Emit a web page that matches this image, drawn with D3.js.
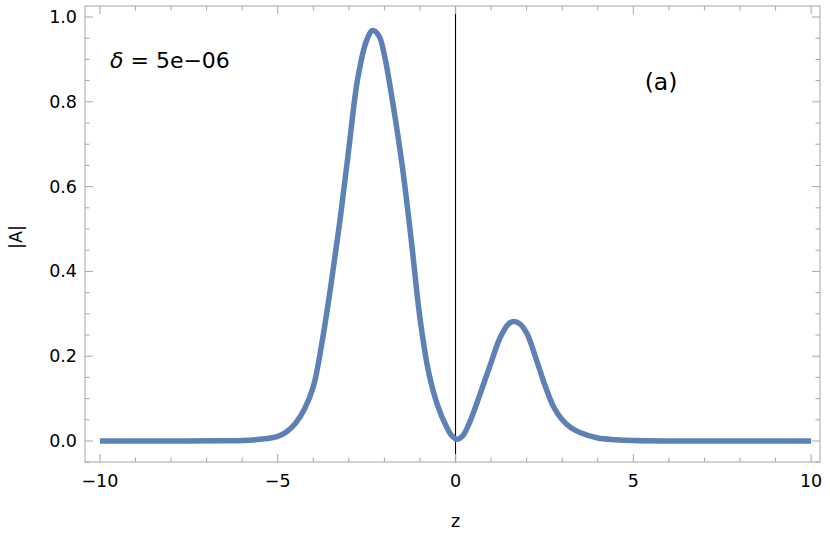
<!DOCTYPE html>
<html>
<head>
<meta charset="utf-8">
<script src="https://cdn.jsdelivr.net/npm/d3@7"></script>
<style>
  body { margin: 0; background: #fff; }
  svg { display: block; }
  text { font-family: "DejaVu Sans", "Liberation Sans", Arial, sans-serif; fill: #000; }
</style>
</head>
<body>
<svg id="chart" width="830" height="546"></svg>
<script>
// ---- data ----
const zValues = [-10, -8, -6.5, -6, -5.5, -5.0, -4.75, -4.5, -4.25, -4.0, -3.75, -3.5, -3.25, -3.0, -2.75,
  -2.5, -2.33, -2.15, -2.0, -1.75, -1.5, -1.25, -1.0, -0.75, -0.5, -0.25, -0.1, 0.05, 0.2, 0.35, 0.5, 0.75,
  1.0, 1.25, 1.5, 1.65, 1.8, 2.0, 2.25, 2.5, 2.75, 3.0, 3.25, 3.5, 4.0, 4.5, 5, 6, 8, 10];
const aValues = [0, 0, 0.0005, 0.001, 0.004, 0.011, 0.022, 0.042, 0.075, 0.128, 0.235, 0.37, 0.52, 0.69, 0.855,
  0.945, 0.968, 0.955, 0.91, 0.79, 0.65, 0.478, 0.29, 0.16, 0.083, 0.033, 0.012, 0.004, 0.012, 0.035, 0.066, 0.125,
  0.185, 0.243, 0.277, 0.282, 0.277, 0.255, 0.198, 0.135, 0.082, 0.05, 0.031, 0.02, 0.007, 0.003, 0.001, 0, 0, 0];
const xMajorTicks = [-10, -5, 0, 5, 10];
const xMinorTicks = d3.range(-10, 10.01, 1);
const yMajorTicks = [0.0, 0.2, 0.4, 0.6, 0.8, 1.0];
const yMinorTicks = d3.range(-0.05, 1.001, 0.05);
const xLabel = "z";
const yLabel = "|A|";
const panelLabel = "(a)";

// ---- layout ----
const L = 85, R = 820, T = 6, B = 462;
const x = d3.scaleLinear().domain([-10.42, 10.25]).range([L, R]);
const y = d3.scaleLinear().domain([-0.0495, 1.026]).range([B, T]);

const svg = d3.select("#chart");
const frameColor = "#a6a6a6";

// curve
const pts = zValues.map((z, i) => [z, aValues[i]]);
const line = d3.line().x(d => x(d[0])).y(d => y(d[1])).curve(d3.curveCatmullRom.alpha(0.5));

// vertical axis line at z = 0
svg.append("line")
  .attr("x1", x(0)).attr("x2", x(0)).attr("y1", T).attr("y2", B)
  .attr("stroke", "#000").attr("stroke-width", 1.1);

svg.append("path")
  .datum(pts)
  .attr("d", line)
  .attr("fill", "none")
  .attr("stroke", "#5E81B5")
  .attr("stroke-width", 5.5)
  .attr("stroke-linejoin", "round");

// frame
svg.append("rect")
  .attr("x", L).attr("y", T).attr("width", R - L).attr("height", B - T)
  .attr("fill", "none").attr("stroke", frameColor).attr("stroke-width", 1);

const fmt = d3.format(".1f");
const isMajorX = v => xMajorTicks.some(m => Math.abs(m - v) < 1e-6);
const isMajorY = v => yMajorTicks.some(m => Math.abs(m - v) < 1e-6);

// x ticks bottom & top (inward)
const gx = svg.append("g");
xMinorTicks.forEach(v => {
  const len = isMajorX(v) ? 8 : 4.5;
  gx.append("line").attr("x1", x(v)).attr("x2", x(v)).attr("y1", B).attr("y2", B - len)
    .attr("stroke", frameColor);
  gx.append("line").attr("x1", x(v)).attr("x2", x(v)).attr("y1", T).attr("y2", T + len)
    .attr("stroke", frameColor);
});
xMajorTicks.forEach(v => {
  gx.append("text").attr("x", x(v)).attr("y", 487).attr("text-anchor", "middle")
    .attr("font-size", 17.5).text(v < 0 ? "\u2212" + Math.abs(v) : String(v));
});

// y ticks left & right (inward)
const gy = svg.append("g");
yMinorTicks.forEach(v => {
  if (y(v) > B + 0.5 || y(v) < T - 0.5) return;
  const len = isMajorY(v) ? 8 : 4.5;
  gy.append("line").attr("x1", L).attr("x2", L + len).attr("y1", y(v)).attr("y2", y(v))
    .attr("stroke", frameColor);
  gy.append("line").attr("x1", R).attr("x2", R - len).attr("y1", y(v)).attr("y2", y(v))
    .attr("stroke", frameColor);
});
yMajorTicks.forEach(v => {
  gy.append("text").attr("x", 77).attr("y", y(v) + 6).attr("text-anchor", "end")
    .attr("font-size", 17.5).text(fmt(v));
});

// axis labels
svg.append("text").attr("x", x(0)).attr("y", 527).attr("text-anchor", "middle")
  .attr("font-size", 17.5).text(xLabel);
svg.append("text")
  .attr("transform", `translate(22,${(T + B) / 2 + 3}) rotate(-90)`)
  .attr("text-anchor", "middle").attr("font-size", 17.5).text(yLabel);

// annotations
const ann = svg.append("text").attr("x", 110).attr("y", 68).attr("font-size", 22);
ann.append("tspan").attr("font-style", "italic").text("\u03B4");
ann.append("tspan").text(" = 5e\u221206");

svg.append("text").attr("x", 661).attr("y", 90).attr("text-anchor", "middle")
  .attr("font-size", 23.5).text(panelLabel);
</script>
</body>
</html>
